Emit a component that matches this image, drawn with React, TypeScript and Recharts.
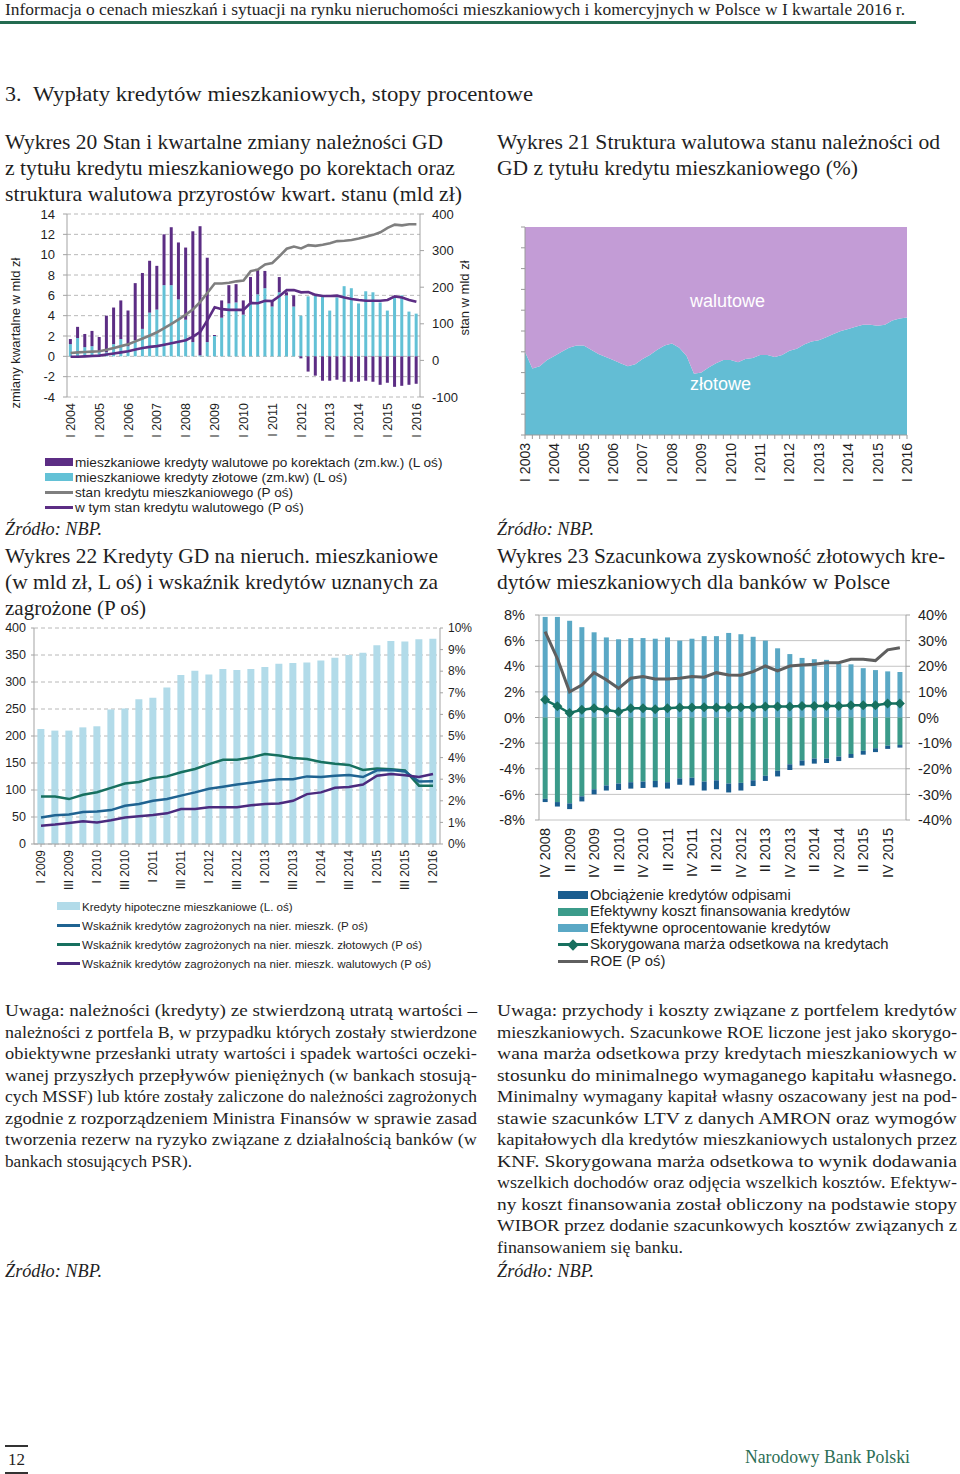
import React from 'react'
import { ComposedChart, AreaChart, Area, Bar, Line, XAxis, YAxis, CartesianGrid, ReferenceLine } from 'recharts'

const SERIF = '"Liberation Serif", "Times New Roman", serif'
const SANS = '"Liberation Sans", Arial, sans-serif'
const INK = '#1f1f1f'
const AXIS = '#a3a3a3'

const ROMAN = ['I', 'II', 'III', 'IV']
function quarterLabels(year: number, q: number, count: number): string[] {
  const out: string[] = []
  let y = year
  let k = q
  for (let i = 0; i < count; i++) {
    out.push(`${ROMAN[k - 1]} ${y}`)
    k++
    if (k > 4) {
      k = 1
      y++
    }
  }
  return out
}

// Wykres 20 - quarterly change (L axis) and stock (R axis), mld zł
const w20Quarters = quarterLabels(2004, 1, 49)
const w20Zlotowe = [
  1.2, 1.8, 0.9, 1.0, 0.5, 0.4, 1.2, 1.7, 1.0, 1.6,
  2.7, 4.3, 4.6, 7.0, 7.0, 5.6, 3.6, 1.4, 0.1, 1.4,
  2.0, 3.8, 5.2, 5.3, 4.1, 5.3, 6.1, 6.7, 4.9, 6.3,
  6.0, 4.9, 4.0, 5.9, 6.0, 5.9, 4.5, 5.8, 6.9, 6.7,
  5.2, 6.4, 6.3, 5.3, 4.5, 5.9, 6.0, 4.4, 4.2,
]
const w20Walutowe = [
  0.5, 1.1, 1.3, 1.5, 1.4, 3.6, 3.6, 3.8, 3.5, 5.6,
  5.5, 5.1, 4.3, 5.0, 5.7, 5.6, 7.1, 10.9, 12.7, 8.3,
  0.1, 1.7, 1.8, 1.8, 1.4, 2.5, 2.4, 1.7, 0.6, 1.5,
  0.3, 1.1, -0.2, -1.5, -1.9, -2.4, -2.4, -2.3, -2.5, -2.5,
  -2.5, -2.4, -2.5, -2.8, -2.6, -3.0, -2.9, -2.8, -2.7,
]
const w20Stan = [
  20, 22, 23, 24, 25, 29, 34, 39, 44, 52,
  60, 68, 77, 88, 100, 112, 125, 140, 160, 185,
  210, 210, 212, 216, 218, 244, 248, 262, 266, 285,
  305, 311, 306, 315, 313, 316, 320, 326, 327, 329,
  333, 338, 343, 350, 362, 371, 369, 372, 372,
]
const w20StanWalutowy = [
  10, 10, 11, 12, 13, 16, 19, 22, 25, 30,
  34, 37, 39, 43, 47, 51, 55, 65, 78, 110,
  145, 140, 138, 138, 138, 157, 156, 163, 162, 176,
  192, 192, 186, 187, 179, 176, 176, 177, 172, 168,
  165, 163, 163, 163, 165, 175, 172, 165, 160,
]
const w20LeftTicks = [-4, -2, 0, 2, 4, 6, 8, 10, 12, 14]
const w20RightTicks = [-100, 0, 100, 200, 300, 400]

// Wykres 21 - currency structure (%)
const w21Quarters = quarterLabels(2003, 1, 53)
const w21Zlotowe = [
  40, 32, 33, 36, 38, 40, 42, 43, 43, 41,
  39, 37.5, 36, 34.5, 33, 34, 36.5, 38.5, 41, 43,
  44, 42, 38, 29.5, 30, 32.5, 34.5, 36, 36, 35,
  36.5, 37, 38.5, 38.5, 37.5, 38.5, 40.5, 41.5, 43.5, 45,
  45.5, 47, 48.5, 50, 51, 52, 53, 53, 52.5, 53,
  55, 56, 56.5,
]
const w21Walutowe = [
  60, 68, 67, 64, 62, 60, 58, 57, 57, 59,
  61, 62.5, 64, 65.5, 67, 66, 63.5, 61.5, 59, 57,
  56, 58, 62, 70.5, 70, 67.5, 65.5, 64, 64, 65,
  63.5, 63, 61.5, 61.5, 62.5, 61.5, 59.5, 58.5, 56.5, 55,
  54.5, 53, 51.5, 50, 49, 48, 47, 47, 47.5, 47,
  45, 44, 43.5,
]
const w21Ticks = [0, 10, 20, 30, 40, 50, 60, 70, 80, 90, 100]

// Wykres 22 - mortgage loans (mld zł) and impaired loan ratios (%)
const w22Quarters = quarterLabels(2009, 1, 29)
const w22Kredyty = [
  213, 210, 210, 216, 218, 249, 251, 268, 271, 290,
  313, 321, 314, 324, 322, 324, 328, 334, 335, 336,
  340, 345, 350, 354, 368, 376, 375, 379, 380,
]
const w22Ogolem = [
  1.23, 1.33, 1.37, 1.48, 1.5, 1.57, 1.77, 1.85, 2.0, 2.08,
  2.24, 2.39, 2.56, 2.65, 2.75, 2.84, 2.93, 3.0, 3.0, 3.13,
  3.1, 3.16, 3.19, 3.1, 3.41, 3.43, 3.36, 2.89, 2.9,
]
const w22Zlotowe = [
  2.2, 2.2, 2.08, 2.28, 2.4, 2.6, 2.8, 2.87, 3.05, 3.13,
  3.32, 3.47, 3.7, 3.9, 3.9, 4.0, 4.17, 4.1, 3.98, 3.93,
  3.8, 3.72, 3.66, 3.43, 3.5, 3.46, 3.41, 2.7, 2.7,
]
const w22Walutowe = [
  0.85, 0.9, 0.97, 1.05, 1.0, 1.1, 1.23, 1.28, 1.34, 1.42,
  1.62, 1.62, 1.7, 1.7, 1.7, 1.79, 1.85, 1.88, 2.0, 2.31,
  2.39, 2.6, 2.64, 2.75, 3.16, 3.24, 3.18, 3.1, 3.24,
]
const w22LeftTicks = [0, 50, 100, 150, 200, 250, 300, 350, 400]
const w22RightTicks = [0, 1, 2, 3, 4, 5, 6, 7, 8, 9, 10]

// Wykres 23 - estimated profitability of PLN mortgages
const w23Quarters = quarterLabels(2008, 4, 30)
const w23Oprocentowanie = [
  7.85, 7.85, 7.55, 7.05, 6.65, 6.25, 6.1, 6.2, 6.2, 6.15,
  6.25, 6.0, 6.15, 6.35, 6.35, 6.6, 6.5, 6.3, 6.0, 5.4,
  4.95, 4.65, 4.55, 4.5, 4.2, 4.15, 3.85, 3.7, 3.6, 3.55,
]
const w23Koszt = [
  -6.35, -6.6, -6.7, -6.15, -5.6, -5.3, -5.15, -5.05, -5.0, -4.95,
  -5.05, -4.75, -4.7, -5.0, -4.9, -5.15, -5.1, -4.9, -4.55, -4.15,
  -3.65, -3.35, -3.2, -3.2, -3.05, -2.85, -2.6, -2.4, -2.2, -2.15,
]
const w23Odpisy = [
  -0.25, -0.35, -0.45, -0.4, -0.4, -0.4, -0.5, -0.5, -0.5, -0.5,
  -0.5, -0.5, -0.6, -0.7, -0.7, -0.7, -0.6, -0.45, -0.4, -0.45,
  -0.45, -0.4, -0.4, -0.35, -0.35, -0.3, -0.3, -0.3, -0.25, -0.2,
]
const w23Marza = [
  1.38, 0.88, 0.35, 0.6, 0.73, 0.58, 0.45, 0.73, 0.73, 0.65,
  0.73, 0.78, 0.78, 0.8, 0.78, 0.78, 0.8, 0.8, 0.85, 0.85,
  0.85, 0.9, 0.9, 0.9, 0.9, 0.95, 0.95, 0.95, 1.1, 1.1,
]
const w23Roe = [
  33.5, 23, 10, 12.7, 17.5, 14.7, 11.4, 15.3, 16, 15,
  15, 15.3, 16, 15.7, 17.5, 16.6, 16.5, 17.9, 20.1, 18.2,
  20.1, 20.5, 20.8, 21.4, 21.4, 22.7, 22.7, 22.2, 26.4, 27.2,
]
const w23LeftTicks = [-8, -6, -4, -2, 0, 2, 4, 6, 8]
const w23RightTicks = [-40, -30, -20, -10, 0, 10, 20, 30, 40]

const data20 = w20Quarters.map((q, i) => ({ q, zl: w20Zlotowe[i], wal: w20Walutowe[i], stan: w20Stan[i], stanWal: w20StanWalutowy[i] }))
const data21 = w21Quarters.map((q, i) => ({ q, zl: w21Zlotowe[i], wal: w21Walutowe[i] }))
const data22 = w22Quarters.map((q, i) => ({ q, kredyty: w22Kredyty[i], ogolem: w22Ogolem[i], zl: w22Zlotowe[i], wal: w22Walutowe[i] }))
const data23 = w23Quarters.map((q, i) => ({ q, opr: w23Oprocentowanie[i], koszt: w23Koszt[i], odpisy: w23Odpisy[i], marza: w23Marza[i], roe: w23Roe[i] }))

const pct = (v: number) => `${v}%`

// vertical category labels, only every n-th one is written
function rotatedTick(every: number, fontSize: number) {
  return (props: any) => {
    const { x, y, payload, index } = props
    if (index % every !== 0) return <g />
    return (
      <text x={x} y={y} transform={`rotate(-90 ${x} ${y})`} textAnchor="end" dy="0.35em" fontSize={fontSize} fontFamily={SANS} fill={INK}>
        {payload.value}
      </text>
    )
  }
}

const renderDiamond = (p: any) => {
  const { cx, cy, index } = p
  const r = 5
  return <path key={`dm-${index}`} d={`M${cx},${cy - r}L${cx + r},${cy}L${cx},${cy + r}L${cx - r},${cy}Z`} fill="#17705f" />
}

// one line of page text, squeezed or stretched to the width it has in the original
function Line1(props: { x: number; y: number; w?: number; size: number; text: string; italic?: boolean; color?: string }) {
  const { x, y, w, size, text, italic, color } = props
  const h = Math.round(size * 1.5)
  return (
    <svg style={{ position: 'absolute', left: x, top: y - h / 2, overflow: 'visible' }} width={w ?? size * 2} height={h}>
      <text
        x={0}
        y={h / 2 + size * 0.3}
        fontSize={size}
        fontFamily={SERIF}
        fontStyle={italic ? 'italic' : 'normal'}
        fill={color ?? INK}
        textLength={w}
        lengthAdjust={w ? 'spacingAndGlyphs' : undefined}
      >
        {text}
      </text>
    </svg>
  )
}

function Txt(props: { x: number; y: number; size: number; children: React.ReactNode; color?: string }) {
  const { x, y, size, children, color } = props
  const lh = Math.round(size * 1.25)
  return (
    <div style={{ position: 'absolute', left: x, top: y - lh / 2, fontSize: size, lineHeight: `${lh}px`, fontFamily: SANS, color: color ?? INK, whiteSpace: 'nowrap' }}>
      {children}
    </div>
  )
}

function VText({ x, y, size, children }: { x: number; y: number; size: number; children: React.ReactNode }) {
  return (
    <div style={{ position: 'absolute', left: x, top: y, transform: 'translate(-50%, -50%) rotate(-90deg)', fontFamily: SANS, fontSize: size, color: INK, whiteSpace: 'nowrap' }}>
      {children}
    </div>
  )
}

type LegendItem = { label: string; kind: 'bar' | 'line' | 'diamond'; color: string }

function HtmlLegend({ x, y, step, size, swatch, items }: { x: number; y: number; step: number; size: number; swatch: number; items: LegendItem[] }) {
  return (
    <>
      {items.map((it, i) => {
        const cy = y + i * step
        const h = it.kind === 'bar' ? 8 : 3
        return (
          <React.Fragment key={it.label}>
            <div style={{ position: 'absolute', left: x, top: cy - h / 2, width: swatch, height: h, background: it.color }} />
            {it.kind === 'diamond' && (
              <div style={{ position: 'absolute', left: x + swatch / 2 - 4, top: cy - 4, width: 8, height: 8, background: it.color, transform: 'rotate(45deg)' }} />
            )}
            <Txt x={x + swatch + 2} y={cy} size={size}>{it.label}</Txt>
          </React.Fragment>
        )
      })}
    </>
  )
}

function Chart20() {
  return (
    <div style={{ position: 'absolute', left: 0, top: 200 }}>
      <ComposedChart width={480} height={250} data={data20} margin={{ top: 14, right: 0, bottom: 0, left: 0 }} stackOffset="sign" barCategoryGap="26%">
        <CartesianGrid yAxisId="l" vertical={false} stroke="#b8b8b8" strokeDasharray="4 3" />
        <XAxis dataKey="q" interval={0} height={53} axisLine={false} tickLine={false} tickSize={0} tickMargin={6} tick={rotatedTick(4, 12.5)} />
        <YAxis yAxisId="l" width={67} domain={[-4, 14]} ticks={w20LeftTicks} interval={0} axisLine={{ stroke: AXIS }} tickLine={{ stroke: AXIS }} tickSize={4} tickMargin={8} tick={{ fontSize: 13, fontFamily: SANS, fill: INK }} />
        <YAxis yAxisId="r" orientation="right" width={60} domain={[-100, 400]} ticks={w20RightTicks} interval={0} axisLine={{ stroke: AXIS }} tickLine={{ stroke: AXIS }} tickSize={4} tickMargin={8} tick={{ fontSize: 13, fontFamily: SANS, fill: INK }} />
        <Bar yAxisId="l" dataKey="zl" stackId="s" fill="#63c1d6" isAnimationActive={false} />
        <Bar yAxisId="l" dataKey="wal" stackId="s" fill="#5c2d84" isAnimationActive={false} />
        <Line yAxisId="r" type="linear" dataKey="stan" stroke="#7f7f7f" strokeWidth={2.6} dot={false} isAnimationActive={false} />
        <Line yAxisId="r" type="linear" dataKey="stanWal" stroke="#5c2d84" strokeWidth={2.6} dot={false} isAnimationActive={false} />
      </ComposedChart>
    </div>
  )
}

function Chart21() {
  return (
    <div style={{ position: 'absolute', left: 490, top: 210 }}>
      <AreaChart width={470} height={280} data={data21} margin={{ top: 17, right: 0, bottom: 0, left: 0 }}>
        <XAxis dataKey="q" interval={0} height={55} axisLine={{ stroke: '#9a9a9a' }} tickLine={{ stroke: '#9a9a9a' }} tickSize={4} tickMargin={4} tick={rotatedTick(4, 14)} />
        <YAxis yAxisId="l" width={35} domain={[0, 100]} ticks={w21Ticks} interval={0} tickFormatter={() => ''} axisLine={{ stroke: '#9a9a9a' }} tickLine={{ stroke: '#9a9a9a' }} tickSize={4} />
        <YAxis yAxisId="r" orientation="right" width={53} domain={[0, 100]} ticks={w21Ticks} interval={0} axisLine={false} tickLine={false} tickSize={0} tickMargin={13} tickFormatter={pct} tick={{ fontSize: 13.5, fontFamily: SANS, fill: INK }} />
        <Area yAxisId="l" type="linear" dataKey="zl" stackId="a" stroke="none" fill="#63bdd4" fillOpacity={1} isAnimationActive={false} />
        <Area yAxisId="l" type="linear" dataKey="wal" stackId="a" stroke="none" fill="#c39cd6" fillOpacity={1} isAnimationActive={false} />
        <ReferenceLine yAxisId="r" y={50} stroke="#000" strokeWidth={3.5} />
      </AreaChart>
    </div>
  )
}

function Chart22() {
  return (
    <div style={{ position: 'absolute', left: 0, top: 615 }}>
      <ComposedChart width={480} height={275} data={data22} margin={{ top: 13, right: 0, bottom: 0, left: 0 }} barCategoryGap="24%">
        <CartesianGrid yAxisId="l" vertical={false} stroke="#b8b8b8" strokeDasharray="4 3" />
        <XAxis dataKey="q" interval={0} height={46} axisLine={{ stroke: AXIS }} tickLine={{ stroke: AXIS }} tickSize={3} tickMargin={3} tick={rotatedTick(2, 12)} />
        <YAxis yAxisId="l" width={34} domain={[0, 400]} ticks={w22LeftTicks} interval={0} axisLine={{ stroke: AXIS }} tickLine={{ stroke: AXIS }} tickSize={3} tickMargin={5} tick={{ fontSize: 12.5, fontFamily: SANS, fill: INK }} />
        <YAxis yAxisId="r" orientation="right" width={40} domain={[0, 10]} ticks={w22RightTicks} interval={0} axisLine={{ stroke: AXIS }} tickLine={{ stroke: AXIS }} tickSize={3} tickMargin={5} tickFormatter={pct} tick={{ fontSize: 12, fontFamily: SANS, fill: INK }} />
        <Bar yAxisId="l" dataKey="kredyty" fill="#b2dbe9" isAnimationActive={false} />
        <Line yAxisId="r" type="linear" dataKey="zl" stroke="#17705f" strokeWidth={2.5} dot={false} isAnimationActive={false} />
        <Line yAxisId="r" type="linear" dataKey="ogolem" stroke="#1f6391" strokeWidth={2.5} dot={false} isAnimationActive={false} />
        <Line yAxisId="r" type="linear" dataKey="wal" stroke="#4b2a7e" strokeWidth={2.5} dot={false} isAnimationActive={false} />
      </ComposedChart>
    </div>
  )
}

function Chart23() {
  return (
    <div style={{ position: 'absolute', left: 490, top: 600 }}>
      <ComposedChart width={470} height={285} data={data23} margin={{ top: 15, right: 0, bottom: 0, left: 0 }} stackOffset="sign" barCategoryGap="30%">
        <CartesianGrid yAxisId="l" vertical={false} stroke="#c4c4c4" />
        <XAxis dataKey="q" interval={0} height={65} axisLine={false} tickLine={false} tickSize={0} tickMargin={8} tick={rotatedTick(2, 14.5)} />
        <YAxis yAxisId="l" width={49} domain={[-8, 8]} ticks={w23LeftTicks} interval={0} axisLine={{ stroke: AXIS }} tickLine={{ stroke: AXIS }} tickSize={4} tickMargin={10} tickFormatter={pct} tick={{ fontSize: 14.5, fontFamily: SANS, fill: INK }} />
        <YAxis yAxisId="r" orientation="right" width={54} domain={[-40, 40]} ticks={w23RightTicks} interval={0} axisLine={{ stroke: AXIS }} tickLine={{ stroke: AXIS }} tickSize={4} tickMargin={8} tickFormatter={pct} tick={{ fontSize: 14.5, fontFamily: SANS, fill: INK }} />
        <Bar yAxisId="l" dataKey="opr" stackId="s" fill="#5aa8c5" isAnimationActive={false} />
        <Bar yAxisId="l" dataKey="koszt" stackId="s" fill="#3b9b8a" isAnimationActive={false} />
        <Bar yAxisId="l" dataKey="odpisy" stackId="s" fill="#1a5d8f" isAnimationActive={false} />
        <Line yAxisId="r" type="linear" dataKey="roe" stroke="#5f5f5f" strokeWidth={3} dot={false} isAnimationActive={false} />
        <Line yAxisId="l" type="linear" dataKey="marza" stroke="#17705f" strokeWidth={2.5} dot={renderDiamond} isAnimationActive={false} />
      </ComposedChart>
    </div>
  )
}

const leftNote = [
  'Uwaga: należności (kredyty) ze stwierdzoną utratą wartości –',
  'należności z portfela B, w przypadku których zostały stwierdzone',
  'obiektywne przesłanki utraty wartości i spadek wartości oczeki-',
  'wanej przyszłych przepływów pieniężnych (w bankach stosują-',
  'cych MSSF) lub które zostały zaliczone do należności zagrożonych',
  'zgodnie z rozporządzeniem Ministra Finansów w sprawie zasad',
  'tworzenia rezerw na ryzyko związane z działalnością banków (w',
  'bankach stosujących PSR).',
]
const rightNote = [
  'Uwaga: przychody i koszty związane z portfelem kredytów',
  'mieszkaniowych. Szacunkowe ROE liczone jest jako skorygo-',
  'wana marża odsetkowa przy kredytach mieszkaniowych w',
  'stosunku do minimalnego wymaganego kapitału własnego.',
  'Minimalny wymagany kapitał własny oszacowany jest na pod-',
  'stawie szacunków LTV z danych AMRON oraz wymogów',
  'kapitałowych dla kredytów mieszkaniowych ustalonych przez',
  'KNF. Skorygowana marża odsetkowa to wynik dodawania',
  'wszelkich dochodów oraz odjęcia wszelkich kosztów. Efektyw-',
  'ny koszt finansowania został obliczony na podstawie stopy',
  'WIBOR przez dodanie szacunkowych kosztów związanych z',
  'finansowaniem się banku.',
]

export default function App() {
  return (
    <div style={{ position: 'absolute', left: 0, top: 0, width: 960, height: 1474, background: '#fff', overflow: 'hidden' }}>
      <Line1 x={5} y={10} w={900} size={17.5} text="Informacja o cenach mieszkań i sytuacji na rynku nieruchomości mieszkaniowych i komercyjnych w Polsce w I kwartale 2016 r." />
      <div style={{ position: 'absolute', left: 0, top: 21, width: 916, height: 3, background: '#236b50' }} />

      <Line1 x={5} y={94} size={22} text="3." />
      <Line1 x={33} y={94} w={500} size={22} text="Wypłaty kredytów mieszkaniowych, stopy procentowe" />

      <Line1 x={5} y={143} w={438} size={21} text="Wykres 20 Stan i kwartalne zmiany należności GD" />
      <Line1 x={5} y={169} w={450} size={21} text="z tytułu kredytu mieszkaniowego po korektach oraz" />
      <Line1 x={5} y={195} w={457} size={21} text="struktura walutowa przyrostów kwart. stanu (mld zł)" />

      <Line1 x={497} y={143} w={443} size={21} text="Wykres 21 Struktura walutowa stanu należności od" />
      <Line1 x={497} y={169} w={361} size={21} text="GD z tytułu kredytu mieszkaniowego (%)" />

      <Chart20 />
      <VText x={15} y={333} size={13}>zmiany kwartalne  w mld zł</VText>
      <VText x={464} y={298} size={13}>stan  w mld zł</VText>
      <HtmlLegend
        x={45}
        y={462}
        step={15}
        size={13.6}
        swatch={28}
        items={[
          { label: 'mieszkaniowe kredyty walutowe po korektach (zm.kw.) (L oś)', kind: 'bar', color: '#5c2d84' },
          { label: 'mieszkaniowe kredyty złotowe (zm.kw) (L oś)', kind: 'bar', color: '#63c1d6' },
          { label: 'stan kredytu mieszkaniowego (P oś)', kind: 'line', color: '#7f7f7f' },
          { label: 'w tym stan kredytu walutowego (P oś)', kind: 'line', color: '#5c2d84' },
        ]}
      />

      <Chart21 />
      <Txt x={690} y={301} size={18} color="#fff">walutowe</Txt>
      <Txt x={690} y={384} size={18} color="#fff">złotowe</Txt>

      <Line1 x={5} y={529} w={97} size={18} italic text="Źródło: NBP." />
      <Line1 x={497} y={529} w={97} size={18} italic text="Źródło: NBP." />

      <Line1 x={5} y={557} w={433} size={21} text="Wykres 22 Kredyty GD na nieruch. mieszkaniowe" />
      <Line1 x={5} y={583} w={433} size={21} text="(w mld zł, L oś) i wskaźnik kredytów uznanych za" />
      <Line1 x={5} y={609} w={141} size={21} text="zagrożone (P oś)" />

      <Line1 x={497} y={557} w={448} size={21} text="Wykres 23 Szacunkowa zyskowność złotowych kre-" />
      <Line1 x={497} y={583} w={393} size={21} text="dytów mieszkaniowych dla banków w Polsce" />

      <Chart22 />
      <HtmlLegend
        x={57}
        y={906}
        step={19}
        size={11.6}
        swatch={23}
        items={[
          { label: 'Kredyty hipoteczne mieszkaniowe (L. oś)', kind: 'bar', color: '#b2dbe9' },
          { label: 'Wskaźnik kredytów zagrożonych na nier. mieszk. (P oś)', kind: 'line', color: '#1f6391' },
          { label: 'Wskaźnik kredytów zagrożonych na nier. mieszk. złotowych (P oś)', kind: 'line', color: '#17705f' },
          { label: 'Wskaźnik kredytów zagrożonych na nier. mieszk. walutowych (P oś)', kind: 'line', color: '#4b2a7e' },
        ]}
      />

      <Chart23 />
      <HtmlLegend
        x={558}
        y={895}
        step={16.5}
        size={14.8}
        swatch={30}
        items={[
          { label: 'Obciążenie kredytów odpisami', kind: 'bar', color: '#1a5d8f' },
          { label: 'Efektywny koszt finansowania kredytów', kind: 'bar', color: '#3b9b8a' },
          { label: 'Efektywne oprocentowanie kredytów', kind: 'bar', color: '#5aa8c5' },
          { label: 'Skorygowana marża odsetkowa na kredytach', kind: 'diamond', color: '#17705f' },
          { label: 'ROE (P oś)', kind: 'line', color: '#5f5f5f' },
        ]}
      />

      {leftNote.map((line, i) => (
        <Line1 key={`ln-${i}`} x={5} y={1011 + i * 21.5} w={i < leftNote.length - 1 ? 472 : 187} size={17.5} text={line} />
      ))}
      {rightNote.map((line, i) => (
        <Line1 key={`rn-${i}`} x={497} y={1011 + i * 21.5} w={i < rightNote.length - 1 ? 460 : 186} size={17.5} text={line} />
      ))}
      <Line1 x={5} y={1271} w={97} size={18} italic text="Źródło: NBP." />
      <Line1 x={497} y={1271} w={97} size={18} italic text="Źródło: NBP." />

      <div style={{ position: 'absolute', left: 5, top: 1445, width: 23, height: 1.5, background: '#333' }} />
      <Line1 x={8} y={1460} size={17} text="12" />
      <div style={{ position: 'absolute', left: 5, top: 1472, width: 23, height: 1.5, background: '#333' }} />
      <Line1 x={745} y={1457} w={165} size={19} color="#2d6e55" text="Narodowy Bank Polski" />
    </div>
  )
}
